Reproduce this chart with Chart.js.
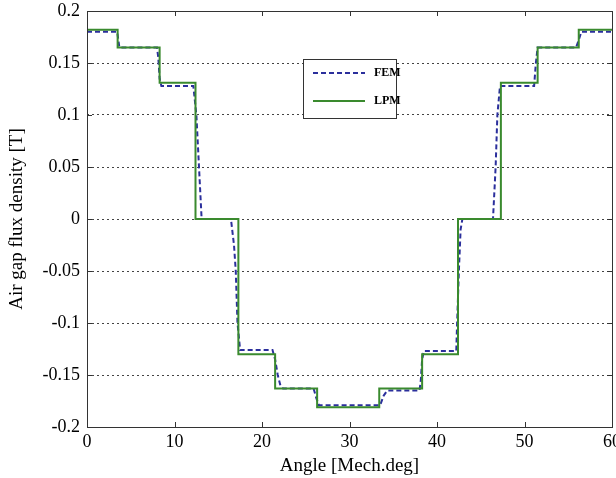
<!DOCTYPE html>
<html>
<head>
<meta charset="utf-8">
<script src="https://cdn.jsdelivr.net/npm/chart.js@4"></script>
<style>
    html, body { margin: 0; padding: 0; background: #fff; }
</style>
</head>
<body>
<canvas id="fluxChart" width="616" height="478"></canvas>
<script>
// DATA

const lpmAngle = [0, 3.5, 8.3, 12.4, 17.3, 21.5, 26.3, 33.4, 38.3, 42.4, 47.3, 51.5, 56.2, 60];
const lpmFlux  = [0.182, 0.165, 0.131, 0, -0.130, -0.163, -0.181, -0.163, -0.130, 0, 0.131, 0.165, 0.182, 0.182];

const femAngle = [0, 3.45, 3.7, 8.0, 8.15, 8.3, 8.5, 12.15, 12.5, 12.8, 13.1,
                  16.45, 16.8, 17.0, 17.2, 17.5, 21.2, 21.5, 21.8, 22.1, 22.4,
                  25.9, 26.2, 26.5, 33.5, 33.9, 34.3, 38.0, 38.15, 38.3, 38.5,
                  42.2, 42.3, 42.5, 42.7, 42.9, 46.4, 46.7, 46.9, 47.2,
                  51.1, 51.3, 51.5, 55.9, 56.2, 56.5, 60];
const femFlux  = [0.180, 0.180, 0.165, 0.165, 0.155, 0.135, 0.128, 0.128, 0.100, 0.050, 0,
                  0, -0.025, -0.050, -0.100, -0.126, -0.126, -0.135, -0.150, -0.160, -0.163,
                  -0.163, -0.172, -0.179, -0.179, -0.170, -0.165, -0.165, -0.155, -0.135, -0.127,
                  -0.127, -0.100, -0.050, -0.010, 0, 0, 0.050, 0.100, 0.128,
                  0.128, 0.150, 0.165, 0.165, 0.172, 0.180, 0.180];

const xTickLabels = ['0', '10', '20', '30', '40', '50', '60'];
const yTickLabels = ['-0.2', '-0.15', '-0.1', '-0.05', '0', '0.05', '0.1', '0.15', '0.2'];

const serif = 'Liberation Serif';

// BOX, INWARD TICKS AND LEGEND

const boxPlugin = {
    id: 'boxPlugin',
    afterDatasetsDraw(chart) {
        const { ctx, chartArea: a, scales } = chart;
        ctx.save();
        ctx.strokeStyle = '#333';
        ctx.lineWidth = 1;
        ctx.setLineDash([]);
        ctx.beginPath();
        scales.x.ticks.forEach(t => {
            const px = Math.round(scales.x.getPixelForValue(t.value)) + 0.5;
            ctx.moveTo(px, a.bottom); ctx.lineTo(px, a.bottom - 5);
            ctx.moveTo(px, a.top); ctx.lineTo(px, a.top + 5);
        });
        scales.y.ticks.forEach(t => {
            const py = Math.round(scales.y.getPixelForValue(t.value)) + 0.5;
            ctx.moveTo(a.left, py); ctx.lineTo(a.left + 5, py);
            ctx.moveTo(a.right, py); ctx.lineTo(a.right - 5, py);
        });
        ctx.stroke();
        ctx.strokeRect(Math.round(a.left) + 0.5, Math.round(a.top) + 0.5,
                       Math.round(a.right - a.left), Math.round(a.bottom - a.top));

        // legend
        const lx = 303, ly = 59, lw = 93, lh = 59;
        ctx.fillStyle = '#fff';
        ctx.fillRect(lx, ly, lw, lh);
        ctx.strokeRect(lx + 0.5, ly + 0.5, lw, lh);
        ctx.font = 'bold 12px ' + serif;
        ctx.textBaseline = 'middle';
        chart.data.datasets.forEach((ds, i) => {
            const y = ly + 14 + i * 28;
            ctx.strokeStyle = ds.borderColor;
            ctx.lineWidth = ds.borderWidth;
            ctx.setLineDash(ds.borderDash || []);
            ctx.beginPath();
            ctx.moveTo(lx + 10, y); ctx.lineTo(lx + 62, y);
            ctx.stroke();
            ctx.fillStyle = '#000';
            ctx.fillText(ds.label, lx + 71, y);
        });
        ctx.restore();
    }
};

const ctx = document.getElementById('fluxChart').getContext('2d');

new Chart(ctx, {
    type: 'line',
    data: {
        datasets: [
            {
                label: 'FEM',
                data: femAngle.map((a, i) => ({ x: a, y: femFlux[i] })),
                borderColor: '#2b2f9c',
                borderWidth: 2,
                borderDash: [5, 3],
                pointRadius: 0,
                tension: 0,
                order: 2
            },
            {
                label: 'LPM',
                data: lpmAngle.map((a, i) => ({ x: a, y: lpmFlux[i] })),
                borderColor: '#3a8a2e',
                borderWidth: 2,
                stepped: 'before',
                pointRadius: 0,
                order: 1
            }
        ]
    },
    options: {
        responsive: false,
        animation: false,
        devicePixelRatio: 1,
        layout: { padding: { top: 11, right: 4, left: 0, bottom: 0 } },
        plugins: {
            legend: { display: false },
            tooltip: { enabled: false }
        },
        scales: {
            x: {
                type: 'linear',
                min: 0,
                max: 60,
                ticks: {
                    stepSize: 10,
                    padding: 4,
                    color: '#000',
                    font: { family: serif, size: 18 },
                    callback: (v, i) => xTickLabels[i]
                },
                grid: { display: false, drawTicks: false },
                border: { display: false },
                title: {
                    display: true,
                    text: 'Angle [Mech.deg]',
                    color: '#000',
                    font: { family: serif, size: 19 },
                    padding: { top: 0, bottom: 1 }
                },
                afterFit(scale) {
                    scale.paddingLeft = 0;
                    scale.paddingRight = 0;
                    scale.height = 51;
                }
            },
            y: {
                min: -0.2,
                max: 0.2,
                ticks: {
                    stepSize: 0.05,
                    padding: 7,
                    color: '#000',
                    font: { family: serif, size: 18 },
                    callback: (v, i) => yTickLabels[i]
                },
                grid: { color: '#444', lineWidth: 1, drawTicks: false },
                border: { display: false, dash: [2, 3] },
                title: {
                    display: true,
                    text: 'Air gap flux density [T]',
                    color: '#000',
                    font: { family: serif, size: 19 },
                    padding: { top: 6, bottom: 0 }
                },
                afterFit(scale) {
                    scale.width = 87;
                    scale.paddingTop = 0;
                    scale.paddingBottom = 0;
                }
            }
        }
    },
    plugins: [boxPlugin]
});
</script>
</body>
</html>
